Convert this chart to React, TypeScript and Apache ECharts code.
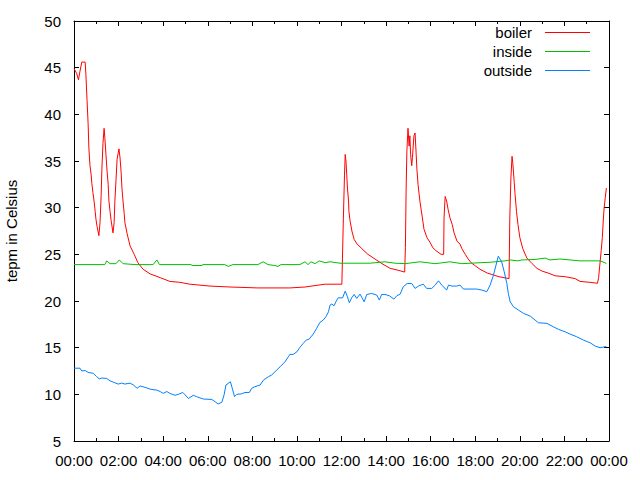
import React, { useEffect, useRef } from 'react';
import * as echarts from 'echarts';

// minutes after midnight
const boilerTimes = [0, 7, 12, 16, 21, 30, 32, 35, 38, 40, 43, 46, 48, 51, 54, 57, 59, 62, 67, 70, 73, 75, 78, 81, 83, 86, 89, 92, 94, 97, 100, 105, 108, 110, 113, 116, 121, 124, 127, 129, 132, 135, 137, 143, 151, 162, 172, 186, 205, 232, 258, 285, 312, 366, 420, 495, 581, 622, 657, 676, 721, 725, 728, 730, 732, 734, 736, 739, 740, 743, 748, 754, 762, 775, 791, 810, 829, 851, 872, 890, 892, 894, 896, 899, 902, 904, 906, 909, 911, 913, 915, 918, 921, 923, 926, 931, 937, 942, 950, 958, 966, 974, 988, 995, 996, 999, 1003, 1007, 1012, 1018, 1023, 1031, 1039, 1044, 1053, 1061, 1069, 1079, 1093, 1112, 1128, 1144, 1171, 1173, 1176, 1179, 1181, 1185, 1187, 1191, 1195, 1200, 1208, 1219, 1233, 1246, 1260, 1276, 1295, 1322, 1349, 1362, 1389, 1409, 1412, 1419, 1422, 1425, 1427, 1430, 1433];
const boilerValues = [44.9, 44.4, 43.7, 44.6, 45.6, 45.6, 44.3, 41.6, 39.0, 36.4, 34.5, 33.6, 32.6, 31.6, 30.7, 29.6, 28.8, 28.0, 27.0, 28.4, 31.2, 34.1, 36.9, 38.5, 37.5, 35.7, 33.9, 32.5, 30.7, 29.6, 28.6, 27.3, 28.4, 30.7, 32.9, 35.2, 36.3, 35.3, 33.7, 32.1, 30.7, 29.4, 28.4, 27.2, 25.9, 25.0, 24.1, 23.4, 22.9, 22.5, 22.1, 22.0, 21.8, 21.6, 21.5, 21.4, 21.4, 21.5, 21.7, 21.8, 21.8, 28.8, 33.4, 35.7, 35.0, 33.6, 32.1, 30.7, 29.6, 28.6, 27.5, 26.6, 26.1, 25.6, 25.0, 24.5, 24.0, 23.5, 23.3, 23.1, 25.7, 32.1, 36.1, 38.5, 36.6, 37.7, 35.7, 34.5, 35.4, 36.6, 37.7, 38.0, 35.7, 34.1, 32.5, 30.7, 29.1, 27.7, 26.8, 26.3, 25.7, 25.4, 25.0, 25.0, 28.9, 31.2, 30.7, 29.8, 28.9, 28.2, 27.3, 26.4, 26.1, 25.6, 25.0, 24.5, 24.1, 23.8, 23.4, 23.0, 22.8, 22.6, 22.4, 28.9, 33.2, 35.5, 34.8, 32.7, 31.5, 29.6, 28.2, 26.8, 25.6, 24.6, 24.0, 23.5, 23.2, 23.0, 22.7, 22.6, 22.4, 22.1, 22.0, 21.9, 22.5, 25.4, 26.8, 28.9, 30.0, 31.1, 32.1];

const insideTimes = [0, 83, 88, 97, 113, 122, 132, 164, 213, 223, 230, 315, 318, 345, 346, 406, 415, 428, 495, 509, 522, 541, 549, 557, 608, 622, 630, 638, 649, 660, 676, 689, 716, 797, 837, 864, 891, 931, 972, 1012, 1044, 1093, 1120, 1160, 1174, 1195, 1206, 1241, 1268, 1281, 1308, 1335, 1362, 1416, 1429, 1433];
const insideValues = [23.9, 23.9, 24.3, 24.0, 24.0, 24.4, 24.0, 23.9, 23.9, 24.4, 23.9, 23.9, 23.8, 23.8, 23.9, 23.9, 23.7, 23.9, 23.9, 24.2, 23.9, 23.8, 23.7, 23.9, 23.9, 24.2, 23.9, 24.2, 24.0, 24.3, 24.1, 24.2, 24.05, 24.05, 24.2, 24.05, 24.0, 24.2, 24.0, 24.2, 24.0, 24.1, 24.15, 24.3, 24.4, 24.3, 24.4, 24.45, 24.6, 24.4, 24.5, 24.4, 24.3, 24.3, 24.1, 24.0];

const outsideTimes = [0, 16, 21, 30, 38, 52, 61, 68, 75, 88, 97, 106, 119, 128, 137, 151, 160, 170, 178, 191, 205, 223, 232, 240, 250, 258, 272, 281, 293, 299, 308, 321, 330, 348, 371, 380, 388, 398, 404, 409, 421, 426, 432, 438, 451, 460, 472, 478, 487, 501, 510, 523, 532, 541, 555, 568, 577, 581, 590, 600, 608, 617, 625, 633, 644, 653, 662, 671, 678, 685, 689, 694, 700, 705, 711, 723, 730, 736, 741, 748, 754, 761, 770, 781, 788, 801, 815, 822, 828, 837, 849, 861, 869, 878, 886, 897, 909, 918, 927, 940, 949, 963, 972, 981, 990, 1003, 1008, 1017, 1030, 1039, 1048, 1066, 1084, 1098, 1111, 1120, 1129, 1142, 1151, 1158, 1165, 1169, 1174, 1183, 1196, 1210, 1228, 1241, 1250, 1273, 1290, 1304, 1322, 1335, 1353, 1371, 1389, 1403, 1416, 1429, 1433];
const outsideValues = [12.8, 12.8, 12.5, 12.55, 12.35, 12.25, 11.9, 11.65, 11.75, 11.7, 11.45, 11.3, 11.1, 11.2, 11.1, 11.2, 11.0, 10.65, 10.9, 10.75, 10.55, 10.45, 10.3, 10.1, 10.3, 10.1, 9.9, 10.0, 10.2, 9.95, 9.55, 9.9, 9.75, 9.5, 9.45, 9.2, 8.97, 9.15, 9.95, 11.0, 11.35, 10.65, 9.75, 10.0, 10.05, 10.2, 10.2, 10.64, 10.82, 11.0, 11.53, 11.88, 12.07, 12.42, 12.96, 13.49, 14.03, 14.28, 14.28, 14.56, 15.03, 15.46, 15.81, 15.92, 16.46, 17.07, 17.71, 17.96, 18.31, 18.84, 19.56, 19.67, 19.49, 19.91, 20.34, 20.34, 21.06, 20.45, 19.81, 20.38, 20.7, 20.28, 20.74, 19.91, 20.7, 20.81, 20.63, 20.1, 20.7, 20.7, 20.56, 20.2, 20.56, 20.74, 21.52, 21.88, 21.88, 21.35, 21.6, 21.81, 21.35, 21.35, 21.7, 22.16, 21.7, 21.17, 21.7, 21.6, 21.6, 21.7, 21.28, 21.28, 21.28, 21.17, 21.0, 21.7, 22.77, 24.8, 24.2, 23.13, 21.88, 20.81, 19.91, 19.38, 19.03, 18.67, 18.38, 17.96, 17.67, 17.6, 17.24, 16.96, 16.7, 16.46, 16.17, 15.81, 15.53, 15.17, 14.99, 15.1, 15.1];

const seriesNames = ['boiler', 'inside', 'outside'];
const seriesColors = ['#ff0000', '#00c000', '#0080ff'];
const yAxisTitle = 'tepm in Celsius';

const FONT = 'Liberation Sans, Arial, sans-serif';

const pair = (ts: number[], vs: number[]) => ts.map((t, i) => [t, vs[i]]);

const fmtTime = (v: number) => {
  const h = Math.round(v / 60) % 24;
  return String(h).padStart(2, '0') + ':00';
};

export default function App() {
  const ref = useRef<HTMLDivElement>(null);
  useEffect(() => {
    if (!ref.current) return;
    const chart = echarts.init(ref.current, null, { renderer: 'svg' });
    const baseX = {
      type: 'value' as const,
      min: 0,
      max: 1440,
      interval: 120,
      axisLine: { show: true, onZero: false, lineStyle: { color: '#000', width: 1 } },
      axisTick: { show: true, inside: true, length: 5, lineStyle: { color: '#000' } },
      minorTick: { show: true, splitNumber: 2, length: 3, lineStyle: { color: '#000' } },
      splitLine: { show: false },
    };
    const baseY = {
      type: 'value' as const,
      min: 5,
      max: 50,
      interval: 5,
      axisLine: { show: true, onZero: false, lineStyle: { color: '#000', width: 1 } },
      axisTick: { show: true, inside: true, length: 5, lineStyle: { color: '#000' } },
      splitLine: { show: false },
    };
    const data = [pair(boilerTimes, boilerValues), pair(insideTimes, insideValues), pair(outsideTimes, outsideValues)];
    chart.setOption({
      animation: false,
      backgroundColor: '#fff',
      textStyle: { fontFamily: FONT },
      grid: { left: 74, right: 31, top: 21, bottom: 39, containLabel: false, outerBoundsMode: 'none' },
      legend: {
        show: true,
        orient: 'vertical',
        align: 'right',
        right: 45,
        top: 19,
        itemWidth: 45,
        itemHeight: 1,
        itemGap: 2,
        icon: 'rect',
        data: seriesNames,
        formatter: (name: string) => `{t|${name}}{g|}`,
        textStyle: {
          fontSize: 15,
          color: '#000',
          fontFamily: FONT,
          lineHeight: 17,
          rich: {
            t: { fontSize: 15, color: '#000', fontFamily: FONT, lineHeight: 17 },
            g: { width: 8, lineHeight: 17 },
          },
        },
      },
      xAxis: [
        {
          ...baseX,
          position: 'bottom',
          axisLabel: { show: true, margin: 12, color: '#000', fontSize: 15, fontFamily: FONT, formatter: fmtTime },
        },
        {
          ...baseX,
          position: 'top',
          axisLabel: { show: false },
        },
      ],
      yAxis: [
        {
          ...baseY,
          position: 'left',
          name: yAxisTitle,
          nameLocation: 'middle',
          nameGap: 55,
          nameRotate: 90,
          nameTextStyle: { color: '#000', fontSize: 15, fontFamily: FONT },
          axisLabel: { show: true, margin: 13, color: '#000', fontSize: 15, fontFamily: FONT },
        },
        {
          ...baseY,
          position: 'right',
          axisLabel: { show: false },
        },
      ],
      series: seriesNames.map((name, i) => ({
        name,
        type: 'line',
        xAxisIndex: 0,
        yAxisIndex: 0,
        data: data[i],
        showSymbol: false,
        symbol: 'none',
        color: seriesColors[i],
        lineStyle: { width: 1, color: seriesColors[i] },
        itemStyle: { color: seriesColors[i] },
      })),
    });
    return () => chart.dispose();
  }, []);
  return <div ref={ref} style={{ width: 640, height: 480, position: 'fixed', left: 0, top: 0 }} />;
}
